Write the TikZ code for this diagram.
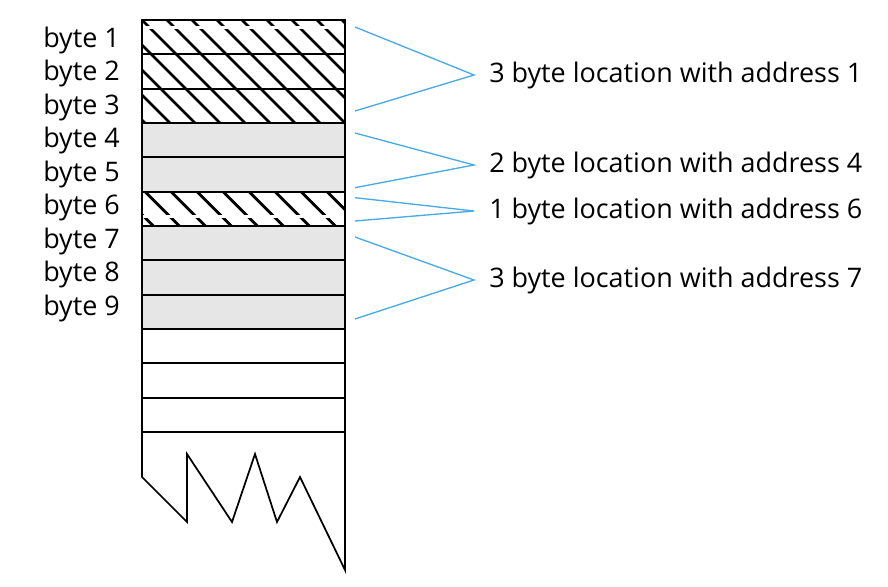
\documentclass[tikz,border=0pt]{standalone}
\usepackage{fontspec}
\setmainfont{Open Sans}
\usetikzlibrary{calc}
\definecolor{linkblue}{RGB}{72,170,230}
\definecolor{usedgray}{RGB}{230,230,231}
\tikzset{
  cell/.style = {draw=black, line width=1.3pt, minimum width=152.25pt, minimum height=25.75pt, inner sep=0pt, outer sep=0pt},
  usedcell/.style = {cell, fill=usedgray},
  hatch/.style = {line width=2.1pt},
  gap/.style = {fill=white, draw=none},
  bytelabel/.style = {anchor=base west, inner sep=0pt, font=\fontsize{20.2pt}{24pt}\selectfont},
  loclabel/.style = {anchor=base west, inner ysep=0pt, inner xsep=11.25pt, font=\fontsize{20.2pt}{24pt}\selectfont},
  link/.style = {draw=linkblue, line width=1pt},
}

\begin{document}
\begin{tikzpicture}[x=0.75pt, y=-0.75pt]
  \useasboundingbox (0,0) rectangle (888,586);

  % memory cells
  \foreach \i in {1,...,12}
    \node [cell] (c\i) at (243.5, {20+34.333*(\i-0.5)}) {};
  \foreach \i in {4,5,7,8,9}
    \node [usedcell] (c\i) at (243.5, {20+34.333*(\i-0.5)}) {};

  % hatched locations
  \begin{scope}
    \clip (c1.north west) rectangle (c3.south east);
    \foreach \k in {-5,...,8}
      \draw [hatch] ($(c1.north west)+(25*\k,0)$) -- ++(110,110);
    \fill [gap] ($(c1.north west)+(0,6)$) rectangle ($(c1.north east)+(0,8.5)$);
  \end{scope}
  \begin{scope}
    \clip (c6.north west) rectangle (c6.south east);
    \foreach \k in {-2,...,8}
      \draw [hatch] ($(c6.north west)+(3+26*\k,0)$) -- ++(36,36);
    \fill [gap] ($(c6.south west)+(0,-11)$) rectangle ($(c6.south east)+(0,-8)$);
  \end{scope}
  \foreach \i in {1,2,3,6}
    \draw [line width=1.3pt] (c\i.north west) rectangle (c\i.south east);

  % torn end of memory
  \draw [line width=1.3pt, line join=miter]
    (c12.south west) -- ++(0,45) -- (187,522) -- (187,454) -- (232,522)
    -- (255,454) -- (277,522) -- (300,477) -- (345,570)
    -- (c12.south east);

  % byte labels
  \foreach \i in {1,...,9}
    \node [bytelabel] (b\i) at (43, {47+33.5*(\i-1)}) {byte \i};

  % location labels
  \node [loclabel] (l1) at (474, 82)  {3 byte location with address 1};
  \node [loclabel] (l4) at (474, 172) {2 byte location with address 4};
  \node [loclabel] (l6) at (474, 218) {1 byte location with address 6};
  \node [loclabel] (l7) at (474, 287) {3 byte location with address 7};

  \coordinate (t1) at ($(c1.north east)+(10,7)$);
  \coordinate (u1) at ($(c3.south east)+(10,-12)$);
  \coordinate (t4) at ($(c4.north east)+(10,10)$);
  \coordinate (u4) at ($(c5.south east)+(10,-4)$);
  \coordinate (t6) at ($(c6.north east)+(10,6)$);
  \coordinate (u6) at ($(c6.south east)+(10,-5)$);
  \coordinate (t7) at ($(c7.north east)+(10,11)$);
  \coordinate (u7) at ($(c9.south east)+(10,-10)$);

  \draw [link] (t1) -- (l1.west) -- (u1);
  \draw [link] (t4) -- (l4.west) -- (u4);
  \draw [link] (t6) -- (l6.west) -- (u6);
  \draw [link] (t7) -- (l7.west) -- (u7);
\end{tikzpicture}
\end{document}
